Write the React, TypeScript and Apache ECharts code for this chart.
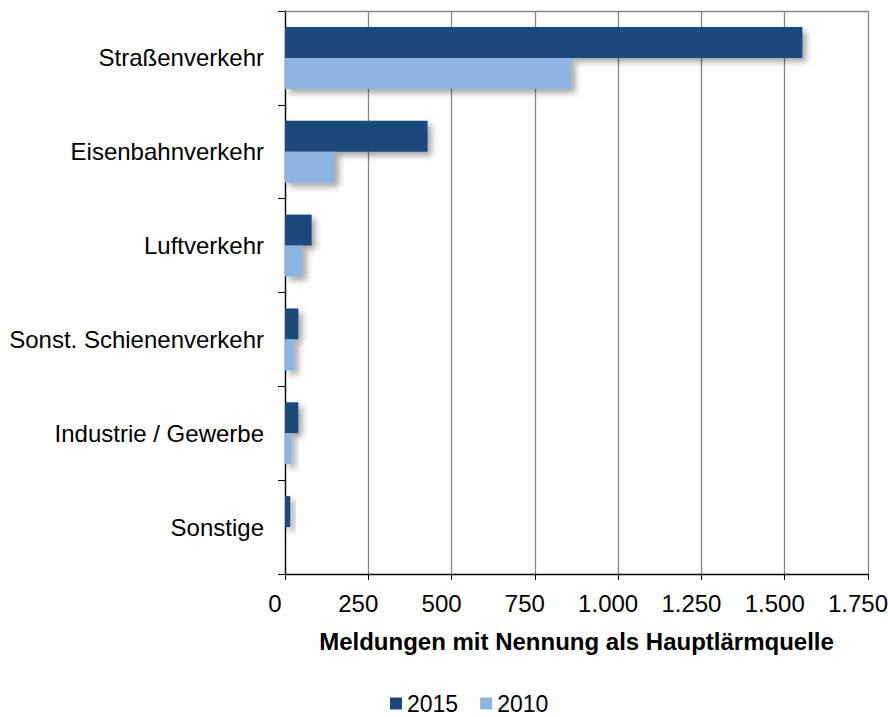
import React, { useEffect, useRef } from "react";
import * as echarts from "echarts";

const categories = [
  "Straßenverkehr",
  "Eisenbahnverkehr",
  "Luftverkehr",
  "Sonst. Schienenverkehr",
  "Industrie / Gewerbe",
  "Sonstige",
];
const values2015 = [1553, 428, 80, 40, 40, 16];
const values2010 = [860, 150, 53, 28, 20, 0];
const seriesNames = ["2015", "2010"];
const xTickLabels = ["0", "250", "500", "750", "1.000", "1.250", "1.500", "1.750"];
const xAxisTitle = "Meldungen mit Nennung als Hauptlärmquelle";

const FONT = "'Liberation Sans', Arial, sans-serif";
const FS = 24;

export default function App() {
  const ref = useRef<HTMLDivElement>(null);
  useEffect(() => {
    if (!ref.current) return;
    const chart = echarts.init(ref.current, null, { renderer: "svg" });
    const shadow = {
      shadowBlur: 6,
      shadowOffsetX: 4,
      shadowOffsetY: 4,
      shadowColor: "rgba(0,0,0,0.35)",
    };
    chart.setOption({
      animation: false,
      textStyle: { fontFamily: FONT },
      grid: {
        left: 285,
        right: 20,
        top: 11,
        bottom: 143,
        containLabel: false,
        outerBoundsMode: "none",
      },
      legend: {
        data: seriesNames,
        left: 390,
        top: 692,
        padding: 0,
        icon: "rect",
        itemWidth: 12,
        itemHeight: 12,
        itemGap: 22,
        textStyle: { fontSize: 23, color: "#000", fontFamily: FONT, padding: [0, 0, 0, 0] },
      },
      xAxis: [
        {
          type: "value",
          min: 0,
          max: 1750,
          interval: 250,
          position: "bottom",
          axisLine: { show: true, lineStyle: { color: "#000", width: 1.3 } },
          axisTick: { show: true, length: 6, lineStyle: { color: "#000" } },
          axisLabel: {
            fontSize: FS,
            color: "#000",
            margin: 17,
            fontFamily: FONT,
            padding: [0, 20, 0, 0],
            formatter: (v: number) => xTickLabels[Math.round(v / 250)] ?? "",
          },
          splitLine: { show: true, lineStyle: { color: "#868686", width: 1.3 } },
          name: xAxisTitle,
          nameLocation: "middle",
          nameGap: 55,
          nameTextStyle: { fontSize: FS, fontWeight: "bold", color: "#000", fontFamily: FONT },
        },
        {
          type: "value",
          min: 0,
          max: 1750,
          interval: 250,
          position: "top",
          axisLine: { show: true, lineStyle: { color: "#868686", width: 1.3 } },
          axisTick: { show: false },
          axisLabel: { show: false },
          splitLine: { show: false },
        },
      ],
      yAxis: {
        type: "category",
        data: categories,
        inverse: true,
        axisLine: { show: true, lineStyle: { color: "#000", width: 1.3 } },
        axisTick: { show: true, length: 7, lineStyle: { color: "#000" } },
        axisLabel: { fontSize: FS, color: "#000", margin: 21, fontFamily: FONT },
        splitLine: { show: false },
      },
      series: [
        {
          name: seriesNames[0],
          type: "bar",
          data: values2015,
          barGap: "0%",
          barCategoryGap: "34%",
          itemStyle: { color: "#1F497D", ...shadow },
        },
        {
          name: seriesNames[1],
          type: "bar",
          data: values2010,
          barGap: "0%",
          barCategoryGap: "34%",
          itemStyle: { color: "#8DB3E2", ...shadow },
        },
      ],
    });
    return () => chart.dispose();
  }, []);
  return <div ref={ref} style={{ width: 888, height: 717, position: "absolute", left: 0, top: 0 }} />;
}
